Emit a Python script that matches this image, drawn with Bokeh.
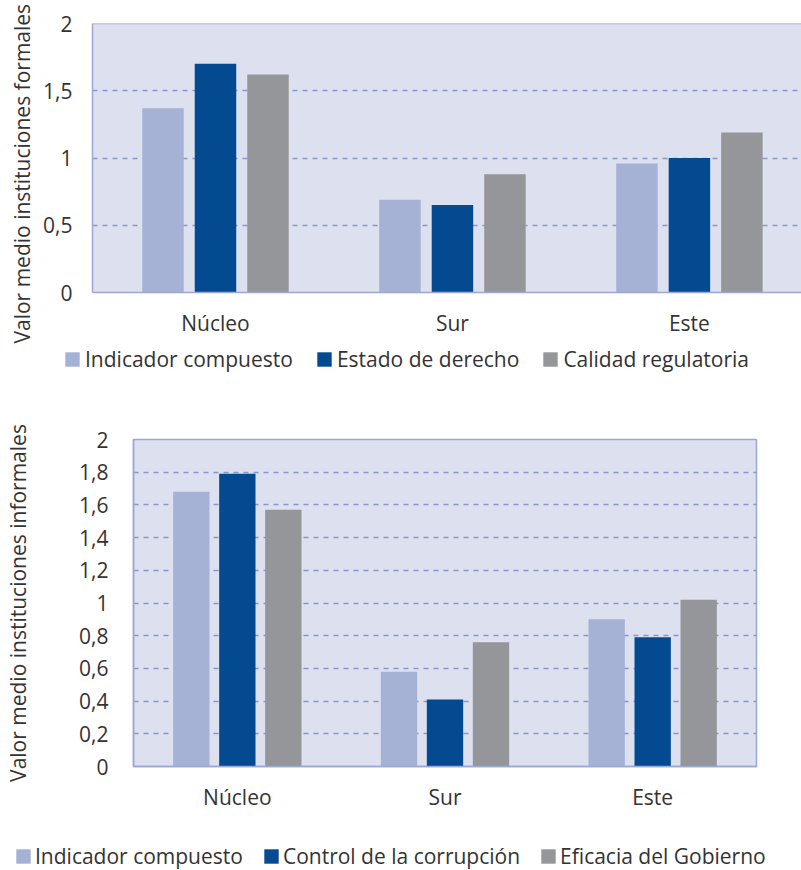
from bokeh.plotting import figure
from bokeh.models import (Range1d, FixedTicker, Legend, LegendItem, Span, Title,
                          ColumnDataSource)
from bokeh.transform import dodge
from bokeh.embed import file_html
from bokeh.resources import INLINE

# Regions
categories = ["Núcleo", "Sur", "Este"]

# Formal institutions
formal_series = ["Indicador compuesto", "Estado de derecho", "Calidad regulatoria"]
formal_indicador = [1.37, 0.69, 0.96]
formal_estado = [1.70, 0.65, 1.00]
formal_calidad = [1.62, 0.88, 1.19]
formal_ticks = [0, 0.5, 1, 1.5, 2]
formal_tick_labels = ["0", "0,5", "1", "1,5", "2"]

# Informal institutions
informal_series = ["Indicador compuesto", "Control de la corrupción", "Eficacia del Gobierno"]
informal_indicador = [1.68, 0.58, 0.90]
informal_control = [1.79, 0.41, 0.79]
informal_eficacia = [1.57, 0.76, 1.02]
informal_ticks = [0, 0.2, 0.4, 0.6, 0.8, 1, 1.2, 1.4, 1.6, 1.8, 2]
informal_tick_labels = ["0", "0,2", "0,4", "0,6", "0,8", "1", "1,2", "1,4", "1,6", "1,8", "2"]

y_titles = ["Valor medio instituciones formales", "Valor medio instituciones informales"]

COLORS = ["#a5b2d5", "#034a91", "#959699"]
FONT = "Open Sans"
FONT_SIZE = "21px"
TEXT = "#333333"
BG = "#dde0ef"
GRID = "#8797c9"
EDGE = "#9aa8d3"

BAR_W = 0.175
OFFSET = 0.2215


def add_bars(p, values):
    src = ColumnDataSource(dict(x=list(range(len(categories))),
                                a=values[0], b=values[1], c=values[2]))
    renderers = []
    for col, off, color in zip(["a", "b", "c"], [-OFFSET, 0, OFFSET], COLORS):
        renderers.append(p.vbar(x=dodge("x", off), top=col, width=BAR_W, bottom=0,
                                source=src, fill_color=color, line_color=None))
    return renderers


def chart(values, ticks, tick_labels, *, height, x_range, border, y_standoff, outline):
    p = figure(width=801, height=height, output_backend="svg", toolbar_location=None,
               x_range=x_range, y_range=Range1d(0, 2),
               min_border_left=border[0], min_border_right=border[1],
               min_border_top=border[2], min_border_bottom=border[3])
    p.background_fill_color = BG
    p.border_fill_color = "white"
    if outline:
        p.outline_line_color = EDGE
        p.outline_line_width = 1.5
    else:
        p.outline_line_color = None
        p.add_layout(Span(location=2, dimension="width", line_color=EDGE, line_width=1.5))

    add_bars(p, values)

    p.xaxis.ticker = FixedTicker(ticks=list(range(len(categories))))
    p.xaxis.major_label_overrides = {i: c for i, c in enumerate(categories)}
    p.yaxis.ticker = FixedTicker(ticks=ticks)
    p.yaxis.major_label_overrides = {t: l for t, l in zip(ticks, tick_labels)}
    for ax in (p.xaxis, p.yaxis):
        ax.major_tick_line_color = None
        ax.minor_tick_line_color = None
        ax.axis_line_color = EDGE
        ax.axis_line_width = 1.5
        ax.major_label_text_font = FONT
        ax.major_label_text_font_size = FONT_SIZE
        ax.major_label_text_color = TEXT
    p.xaxis.major_label_standoff = 10
    p.yaxis.major_label_standoff = y_standoff

    p.xgrid.grid_line_color = None
    p.ygrid.grid_line_color = GRID
    p.ygrid.grid_line_dash = "5 5"
    p.ygrid.grid_line_width = 1.5
    return p


def legend_strip(values, series, *, height, x, y, spacing, standoff):
    # a plain strip carrying the legend of the chart above it
    p = figure(width=801, height=height, output_backend="svg", toolbar_location=None,
               x_range=Range1d(10, 11), y_range=Range1d(10, 11),
               min_border=0, x_axis_location=None, y_axis_location=None)
    p.outline_line_color = None
    p.grid.visible = False
    p.background_fill_color = "white"
    renderers = add_bars(p, values)
    legend = Legend(items=[LegendItem(label=s, renderers=[r]) for s, r in zip(series, renderers)],
                    orientation="horizontal", location=(x, y),
                    glyph_width=18, glyph_height=18, label_standoff=standoff,
                    spacing=spacing, padding=0, margin=0,
                    border_line_color=None, background_fill_alpha=0,
                    label_text_font=FONT, label_text_font_size=FONT_SIZE,
                    label_text_color=TEXT)
    p.add_layout(legend, "center")
    return p


top = chart([formal_indicador, formal_estado, formal_calidad],
            formal_ticks, formal_tick_labels,
            height=345, x_range=Range1d(-0.519, 2.473), border=(92, 0, 23, 53),
            y_standoff=14, outline=False)
# vertical title, starting below the frame's bottom edge
top.add_layout(Title(text=y_titles[0], align="left", offset=-51, standoff=10,
                     text_font=FONT, text_font_size=FONT_SIZE, text_font_style="normal",
                     text_color=TEXT), "left")
top_legend = legend_strip([formal_indicador, formal_estado, formal_calidad], formal_series,
                          height=50, x=63, y=22, spacing=22, standoff=4)

bottom = chart([informal_indicador, informal_control, informal_eficacia],
               informal_ticks, informal_tick_labels,
               height=425, x_range=Range1d(-0.5, 2.5), border=(133, 45, 44, 54),
               y_standoff=19, outline=True)
bottom.yaxis.axis_label = y_titles[1]
bottom.yaxis.axis_label_standoff = 44
bottom.yaxis.axis_label_text_font = FONT
bottom.yaxis.axis_label_text_font_size = FONT_SIZE
bottom.yaxis.axis_label_text_font_style = "normal"
bottom.yaxis.axis_label_text_color = TEXT
bottom_legend = legend_strip([informal_indicador, informal_control, informal_eficacia],
                             informal_series, height=50, x=14, y=0, spacing=19, standoff=3)

open("out.html", "w").write(file_html([top, top_legend, bottom, bottom_legend], INLINE))
